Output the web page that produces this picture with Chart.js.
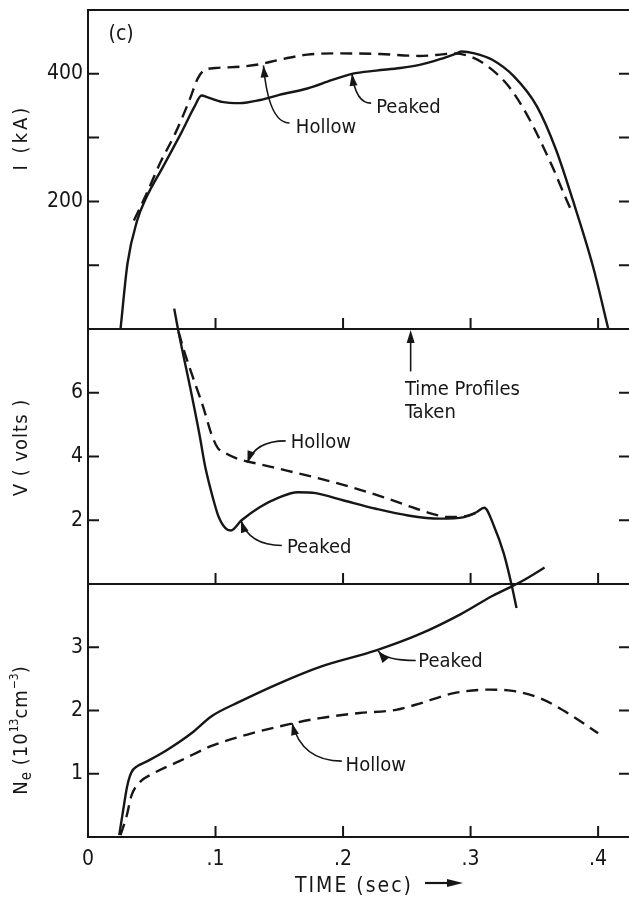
<!DOCTYPE html>
<html>
<head>
<meta charset="utf-8">
<script src="https://cdn.jsdelivr.net/npm/chart.js@4.4.1/dist/chart.umd.min.js"></script>
<style>
  html, body { margin: 0; padding: 0; background: #fff; overflow: hidden; }
  #wrap { position: relative; width: 640px; height: 897px; }
</style>
</head>
<body>
<div id="wrap"><canvas id="c" width="640" height="897"></canvas></div>
<script>
// ---- time axis (sec) and tick labels ----
const timeTicks = [0, 0.1, 0.2, 0.3, 0.4];
const timeTickLabels = ['0', '.1', '.2', '.3', '.4'];

// ---- plasma current I (kA) ----
const currentPeakedTime = [0.0255, 0.031, 0.0387, 0.045, 0.059, 0.073, 0.0836, 0.089, 0.094, 0.105, 0.119, 0.135, 0.150, 0.172, 0.191, 0.207, 0.226, 0.245, 0.260, 0.276, 0.289, 0.293, 0.303, 0.317, 0.334, 0.352, 0.367, 0.380, 0.396, 0.408];
const currentPeaked     = [0, 103, 171, 203, 255, 307, 349, 366, 363, 356, 354, 359, 367, 377, 390, 400, 405, 409, 414, 423, 432, 435, 432, 422, 396, 349, 281, 203, 98, 0];
const currentHollowTime = [0.036, 0.045, 0.057, 0.0685, 0.0796, 0.0859, 0.0906, 0.100, 0.119, 0.135, 0.150, 0.172, 0.198, 0.229, 0.260, 0.276, 0.286, 0.300, 0.314, 0.330, 0.345, 0.364, 0.374, 0.378];
const currentHollow     = [170, 208, 262, 307, 359, 392, 405, 409, 411, 415, 422, 430, 432, 431, 428, 430, 432, 427, 411, 380, 333, 255, 208, 190];
const currentTickValues = [100, 200, 300, 400];
const currentTickLabels = ['', '200', '', '400'];

// ---- loop voltage V (volts) ----
const voltPeakedTime = [0.0676, 0.071, 0.081, 0.0874, 0.092, 0.0985, 0.1025, 0.1094, 0.112, 0.1204, 0.1346, 0.150, 0.1645, 0.1786, 0.2006, 0.2258, 0.251, 0.276, 0.295, 0.3045, 0.3107, 0.3186, 0.326, 0.332, 0.336];
const voltPeaked     = [8.64, 7.91, 5.99, 4.69, 3.66, 2.62, 2.10, 1.70, 1.68, 2.00, 2.41, 2.72, 2.88, 2.85, 2.62, 2.36, 2.15, 2.05, 2.10, 2.25, 2.39, 1.79, 0.96, 0, -0.75];
const voltHollowTime = [0.071, 0.0755, 0.0843, 0.0906, 0.0969, 0.1016, 0.1094, 0.1189, 0.1346, 0.1567, 0.1786, 0.207, 0.232, 0.254, 0.270, 0.2825, 0.295, 0.305];
const voltHollow     = [7.91, 7.29, 6.25, 5.52, 4.69, 4.28, 4.07, 3.91, 3.76, 3.55, 3.34, 3.03, 2.72, 2.41, 2.20, 2.10, 2.12, 2.24];
const voltTickValues = [2, 4, 6];
const voltTickLabels = ['2', '4', '6'];

// ---- electron density Ne (10^13 cm^-3) ----
const densPeakedTime = [0.0245, 0.0277, 0.0308, 0.034, 0.0387, 0.0466, 0.0623, 0.0811, 0.0969, 0.119, 0.150, 0.182, 0.226, 0.2604, 0.292, 0.317, 0.333, 0.345, 0.358];
const densPeaked     = [0.03, 0.44, 0.81, 1.02, 1.12, 1.20, 1.38, 1.64, 1.91, 2.14, 2.43, 2.69, 2.95, 3.21, 3.52, 3.81, 3.97, 4.10, 4.26];
const densHollowTime = [0.0255, 0.0304, 0.034, 0.0403, 0.0497, 0.0717, 0.0969, 0.125, 0.157, 0.182, 0.213, 0.2415, 0.260, 0.286, 0.314, 0.333, 0.355, 0.380, 0.400];
const densHollow     = [0.03, 0.34, 0.65, 0.86, 0.99, 1.20, 1.44, 1.62, 1.78, 1.88, 1.96, 2.01, 2.11, 2.27, 2.33, 2.31, 2.19, 1.91, 1.64];
const densTickValues = [1, 2, 3];
const densTickLabels = ['1', '2', '3'];

// ---- styling ----
const INK = '#161616';
const FONT = "'DejaVu Sans Condensed', 'Liberation Sans Narrow', 'DejaVu Sans', sans-serif";
const TICK_LEN = 11;

function points(xs, ys) { return xs.map((x, i) => ({ x: x, y: ys[i] })); }

// traces may run past their own panel into the neighbouring one, so no clipping
function curve(xs, ys, axis, dashed) {
  return {
    data: points(xs, ys),
    yAxisID: axis,
    borderColor: INK,
    borderWidth: 2.4,
    borderDash: dashed ? [12, 7] : [],
    pointRadius: 0,
    fill: false,
    clip: false,
    cubicInterpolationMode: 'monotone'
  };
}

const panels = [
  { axis: 'yI',  ticks: currentTickValues },
  { axis: 'yV',  ticks: voltTickValues },
  { axis: 'yNe', ticks: densTickValues }
];

// curved leader arrows with their labels, placed in data units of each panel
const notes = [
  { axis: 'yI',  text: 'Hollow', at: [0.163, 315],  from: [0.158, 323],  to: [0.1376, 413] },
  { axis: 'yI',  text: 'Peaked', at: [0.226, 347],  from: [0.222, 354],  to: [0.207, 400] },
  { axis: 'yV',  text: 'Hollow', at: [0.159, 4.42], from: [0.155, 4.49], to: [0.125, 3.80] },
  { axis: 'yV',  text: 'Peaked', at: [0.156, 1.15], from: [0.152, 1.21], to: [0.120, 1.99] },
  { axis: 'yNe', text: 'Peaked', at: [0.259, 2.77], from: [0.257, 2.79], to: [0.2275, 2.94] },
  { axis: 'yNe', text: 'Hollow', at: [0.202, 1.12], from: [0.199, 1.20], to: [0.160, 1.80] }
];

function arrowHead(ctx, x, y, ang, len, half) {
  ctx.beginPath();
  ctx.moveTo(x, y);
  ctx.lineTo(x - len * Math.cos(ang) + half * Math.sin(ang), y - len * Math.sin(ang) - half * Math.cos(ang));
  ctx.lineTo(x - len * Math.cos(ang) - half * Math.sin(ang), y - len * Math.sin(ang) + half * Math.cos(ang));
  ctx.closePath();
  ctx.fill();
}

// panel frames and inward tick marks
const framePlugin = {
  id: 'frames',
  beforeDatasetsDraw(chart) {
    const ctx = chart.ctx, xs = chart.scales.x;
    const L = chart.chartArea.left, R = chart.chartArea.right;
    ctx.save();
    ctx.strokeStyle = INK;
    ctx.lineWidth = 2;
    for (const p of panels) {
      const s = chart.scales[p.axis];
      ctx.strokeRect(L, s.top, R - L, s.bottom - s.top);
      ctx.beginPath();
      for (const v of p.ticks) {
        const y = s.getPixelForValue(v);
        ctx.moveTo(L, y); ctx.lineTo(L + TICK_LEN, y);
        ctx.moveTo(R, y); ctx.lineTo(R - TICK_LEN, y);
      }
      for (const t of timeTicks) {
        if (t === 0) continue;
        const x = xs.getPixelForValue(t);
        ctx.moveTo(x, s.bottom); ctx.lineTo(x, s.bottom - TICK_LEN);
      }
      ctx.stroke();
    }
    ctx.restore();
  }
};

function drawRotated(ctx, cx, cy, pieces) {
  ctx.save();
  ctx.translate(cx, cy);
  ctx.rotate(-Math.PI / 2);
  ctx.textAlign = 'left';
  ctx.textBaseline = 'alphabetic';
  let total = 0;
  for (const p of pieces) {
    ctx.font = p.size + 'px ' + FONT;
    ctx.letterSpacing = (p.ls || 0) + 'px';
    p.w = ctx.measureText(p.t).width;
    total += p.w;
  }
  let x = -total / 2;
  for (const p of pieces) {
    ctx.font = p.size + 'px ' + FONT;
    ctx.letterSpacing = (p.ls || 0) + 'px';
    ctx.fillText(p.t, x, 7 + (p.dy || 0));
    x += p.w;
  }
  ctx.restore();
}

// labels, leader arrows and axis titles
const textPlugin = {
  id: 'texts',
  afterDatasetsDraw(chart) {
    const ctx = chart.ctx, xs = chart.scales.x;
    ctx.save();
    ctx.fillStyle = INK;
    ctx.strokeStyle = INK;
    ctx.lineWidth = 1.6;

    for (const n of notes) {
      const ys = chart.scales[n.axis];
      const tx = xs.getPixelForValue(n.at[0]), ty = ys.getPixelForValue(n.at[1]);
      ctx.font = '20px ' + FONT;
      ctx.textAlign = 'left';
      ctx.textBaseline = 'middle';
      ctx.fillText(n.text, tx, ty);
      const sx = xs.getPixelForValue(n.from[0]), sy = ys.getPixelForValue(n.from[1]);
      const ex = xs.getPixelForValue(n.to[0]), ey = ys.getPixelForValue(n.to[1]);
      const cx = ex + (sx - ex) * 0.2, cy = sy;
      ctx.beginPath();
      ctx.moveTo(sx, sy);
      ctx.quadraticCurveTo(cx, cy, ex, ey);
      ctx.stroke();
      arrowHead(ctx, ex, ey, Math.atan2(ey - cy, ex - cx), 12, 4);
    }

    // marker for the time the profiles were taken
    const yV = chart.scales.yV;
    const ax = xs.getPixelForValue(0.253);
    const aTop = yV.getPixelForValue(8), aBot = yV.getPixelForValue(6.67);
    ctx.beginPath();
    ctx.moveTo(ax, aBot); ctx.lineTo(ax, aTop + 8);
    ctx.stroke();
    arrowHead(ctx, ax, aTop + 1, -Math.PI / 2, 13, 4);
    ctx.font = '20px ' + FONT;
    ctx.textAlign = 'left';
    ctx.textBaseline = 'middle';
    const lx = xs.getPixelForValue(0.2485);
    ctx.fillText('Time Profiles', lx, yV.getPixelForValue(6.1));
    ctx.fillText('Taken', lx, yV.getPixelForValue(5.36));

    // panel letter
    const yI = chart.scales.yI;
    ctx.font = '21px ' + FONT;
    ctx.textAlign = 'center';
    ctx.fillText('(c)', xs.getPixelForValue(0.026), yI.getPixelForValue(461));

    // axis titles
    const titleX = 20;
    drawRotated(ctx, titleX, (yI.top + yI.bottom) / 2 - 32, [{ t: 'I (kA)', size: 20, ls: 3 }]);
    drawRotated(ctx, titleX, (yV.top + yV.bottom) / 2 - 9, [{ t: 'V ( volts )', size: 20, ls: 1 }]);
    const yN = chart.scales.yNe;
    drawRotated(ctx, titleX, (yN.top + yN.bottom) / 2 + 20, [
      { t: 'N', size: 20, ls: 1 },
      { t: 'e', size: 15, dy: 4 },
      { t: ' (10', size: 20, ls: 1 },
      { t: '13', size: 12, dy: -9 },
      { t: 'cm', size: 20, ls: 1 },
      { t: '−3', size: 12, dy: -9 },
      { t: ')', size: 20 }
    ]);

    // time axis title with arrow
    ctx.font = '21px ' + FONT;
    ctx.letterSpacing = '2px';
    ctx.textAlign = 'left';
    ctx.textBaseline = 'alphabetic';
    ctx.fillText('TIME (sec)', 295, 892);
    ctx.letterSpacing = '0px';
    ctx.lineWidth = 2.2;
    ctx.beginPath();
    ctx.moveTo(425, 883); ctx.lineTo(452, 883);
    ctx.stroke();
    arrowHead(ctx, 463, 883, 0, 16, 4);
    ctx.restore();
  }
};

function yScale(min, max, weight, values, labels) {
  return {
    type: 'linear',
    position: 'left',
    stack: 'panels',
    stackWeight: weight,
    min: min,
    max: max,
    grid: { display: false, drawTicks: false },
    border: { display: false },
    afterFit(s) { s.width = 88; s.paddingTop = 0; s.paddingBottom = 0; },
    afterBuildTicks(s) { s.ticks = values.map(v => ({ value: v })); },
    ticks: {
      padding: 5,
      autoSkip: false,
      color: INK,
      font: { family: FONT, size: 21 },
      callback(v) { const i = values.indexOf(v); return i >= 0 ? labels[i] : ''; }
    }
  };
}

new Chart(document.getElementById('c'), {
  type: 'line',
  data: {
    datasets: [
      curve(currentPeakedTime, currentPeaked, 'yI', false),
      curve(currentHollowTime, currentHollow, 'yI', true),
      curve(voltPeakedTime, voltPeaked, 'yV', false),
      curve(voltHollowTime, voltHollow, 'yV', true),
      curve(densPeakedTime, densPeaked, 'yNe', false),
      curve(densHollowTime, densHollow, 'yNe', true)
    ]
  },
  options: {
    responsive: false,
    animation: false,
    devicePixelRatio: 1,
    events: [],
    layout: { padding: { top: 10, right: 10, left: 0, bottom: 0 } },
    plugins: { legend: { display: false }, tooltip: { enabled: false } },
    scales: {
      x: {
        type: 'linear',
        position: 'bottom',
        min: 0,
        max: 0.425,
        grid: { display: false, drawTicks: false },
        border: { display: false },
        afterFit(s) { s.height = 60; s.paddingLeft = 0; s.paddingRight = 0; },
        afterBuildTicks(s) { s.ticks = timeTicks.map(v => ({ value: v })); },
        ticks: {
          padding: 10,
          autoSkip: false,
          maxRotation: 0,
          color: INK,
          font: { family: FONT, size: 21 },
          callback(v) { const i = timeTicks.indexOf(v); return i >= 0 ? timeTickLabels[i] : ''; }
        }
      },
      yNe: yScale(0, 4, 253, densTickValues, densTickLabels),
      yV:  yScale(0, 8, 255, voltTickValues, voltTickLabels),
      yI:  yScale(0, 500, 319, currentTickValues, currentTickLabels)
    }
  },
  plugins: [framePlugin, textPlugin]
});
</script>
</body>
</html>
